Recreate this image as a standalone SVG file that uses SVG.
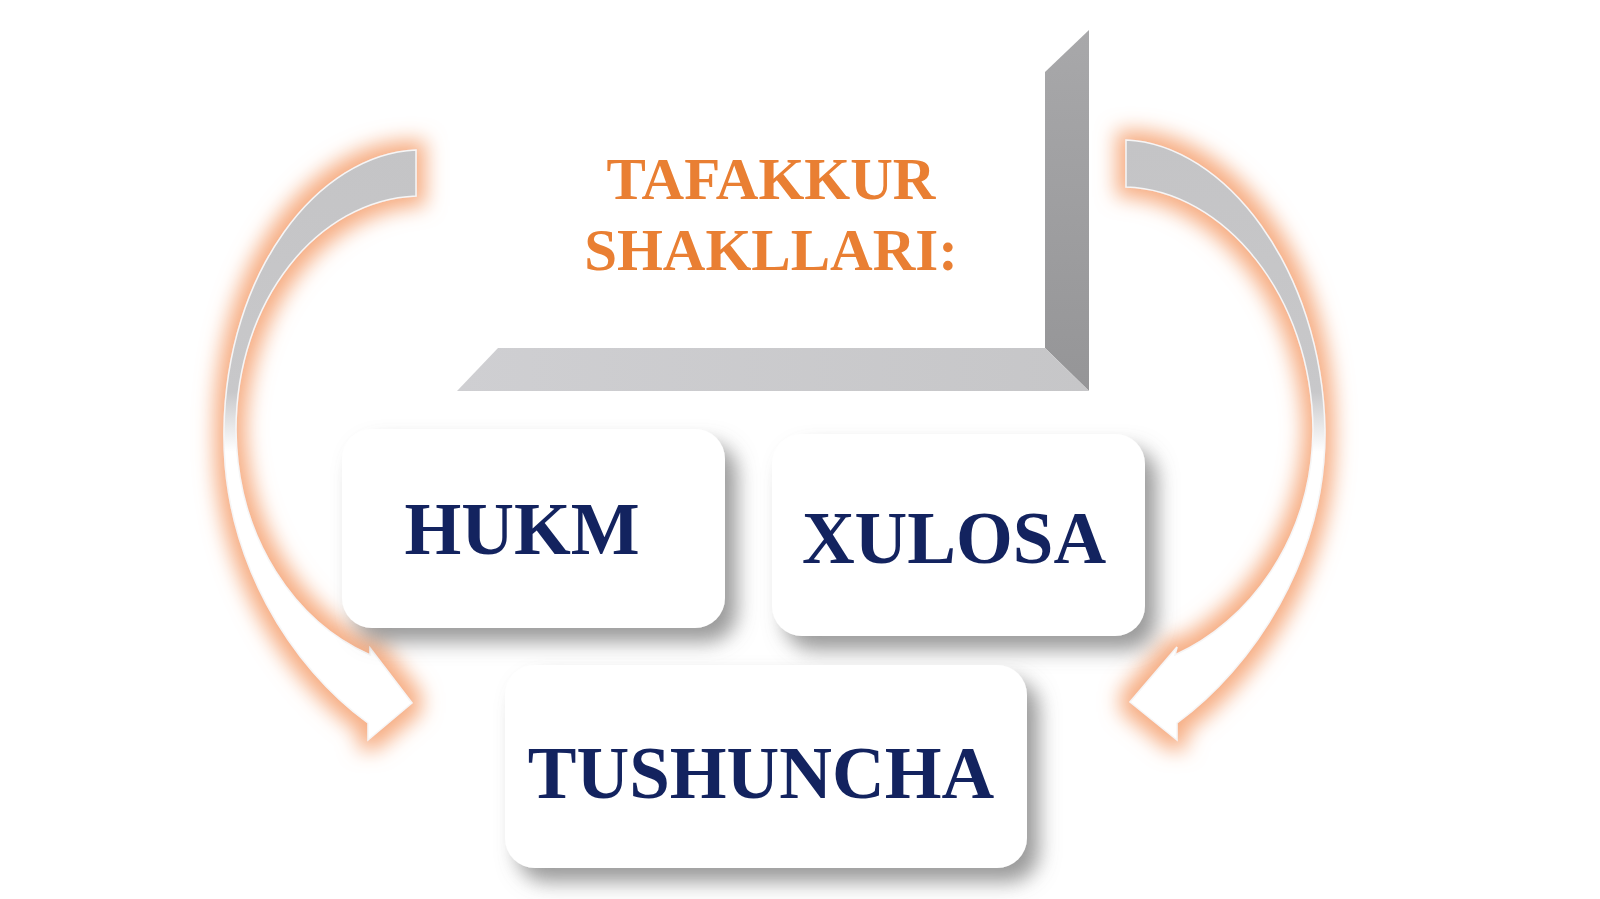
<svg xmlns="http://www.w3.org/2000/svg" width="1600" height="899" viewBox="0 0 1600 899">
  <defs>
    <style>
      .title { font-family: "Liberation Serif", "Times New Roman", serif; font-weight: bold; font-size: 59px; fill: #E97F33; text-anchor: middle; }
      .label { font-family: "Liberation Serif", "Times New Roman", serif; font-weight: bold; font-size: 73px; fill: #13235F; text-anchor: middle; }
      .box { fill: #FFFFFF; filter: url(#shadow); }
      .arrow { fill: url(#arrowGrad); stroke: #F6F6F6; stroke-width: 1.5; filter: url(#glow); }
    </style>
    <filter id="shadow" x="-15%" y="-15%" width="140%" height="160%">
      <feDropShadow dx="12" dy="14" stdDeviation="10" flood-color="#707070" flood-opacity="0.7"/>
    </filter>
    <filter id="glow" x="-40%" y="-25%" width="180%" height="150%">
      <feMorphology in="SourceAlpha" operator="dilate" radius="9" result="d"/>
      <feGaussianBlur in="d" stdDeviation="10" result="b"/>
      <feFlood flood-color="#F6AA7E" flood-opacity="0.95"/>
      <feComposite in2="b" operator="in" result="g"/>
      <feMerge>
        <feMergeNode in="g"/>
        <feMergeNode in="SourceGraphic"/>
      </feMerge>
    </filter>
    <linearGradient id="arrowGrad" gradientUnits="userSpaceOnUse" x1="0" y1="140" x2="0" y2="740">
      <stop offset="0" stop-color="#C4C4C6"/>
      <stop offset="0.42" stop-color="#C8C8CA"/>
      <stop offset="0.52" stop-color="#FFFFFF"/>
      <stop offset="1" stop-color="#FFFFFF"/>
    </linearGradient>
    <linearGradient id="sideGrad" x1="0" y1="0" x2="0" y2="1">
      <stop offset="0" stop-color="#A8A8AA"/>
      <stop offset="1" stop-color="#959597"/>
    </linearGradient>
    <linearGradient id="baseGrad" x1="0" y1="0" x2="1" y2="0">
      <stop offset="0" stop-color="#CFCFD2"/>
      <stop offset="1" stop-color="#C6C6C8"/>
    </linearGradient>
  </defs>

  <rect x="0" y="0" width="1600" height="899" fill="#FFFFFF"/>

  <g id="connectors">
    <path id="arrow-left" class="arrow" d="M 416,150 C 318,154 226,272 224,430 C 222,560 292,668 368,723 L 368,740 L 412,703 L 370,648 L 370,655 C 296,622 237,540 236,430 C 236,300 318,200 416,196 Z"/>
    <path id="arrow-right" class="arrow" d="M 1126,140 C 1224,144 1322,268 1325,430 C 1326,560 1252,668 1177,723 L 1177,740 L 1130,702 L 1177,647 L 1175,655 C 1248,622 1312,540 1313,430 C 1312,296 1224,190 1126,187 Z"/>
  </g>

  <g id="node-title">
    <rect x="498" y="72" width="547" height="276" fill="#FFFFFF"/>
    <polygon points="1045,72 1089,30 1089,391 1045,348" fill="url(#sideGrad)"/>
    <polygon points="457,391 498,348 1045,348 1089,391" fill="url(#baseGrad)"/>
    <text class="title" x="771" y="199">TAFAKKUR</text>
    <text class="title" x="771" y="270">SHAKLLARI:</text>
  </g>

  <g id="node-hukm">
    <rect class="box" x="342" y="429" width="383" height="199" rx="30" ry="30"/>
    <text class="label" x="522" y="554">HUKM</text>
  </g>

  <g id="node-xulosa">
    <rect class="box" x="772" y="434" width="373" height="202" rx="30" ry="30"/>
    <text class="label" x="954" y="563">XULOSA</text>
  </g>

  <g id="node-tushuncha">
    <rect class="box" x="505" y="665" width="522" height="203" rx="30" ry="30"/>
    <text class="label" x="761" y="798">TUSHUNCHA</text>
  </g>
</svg>
